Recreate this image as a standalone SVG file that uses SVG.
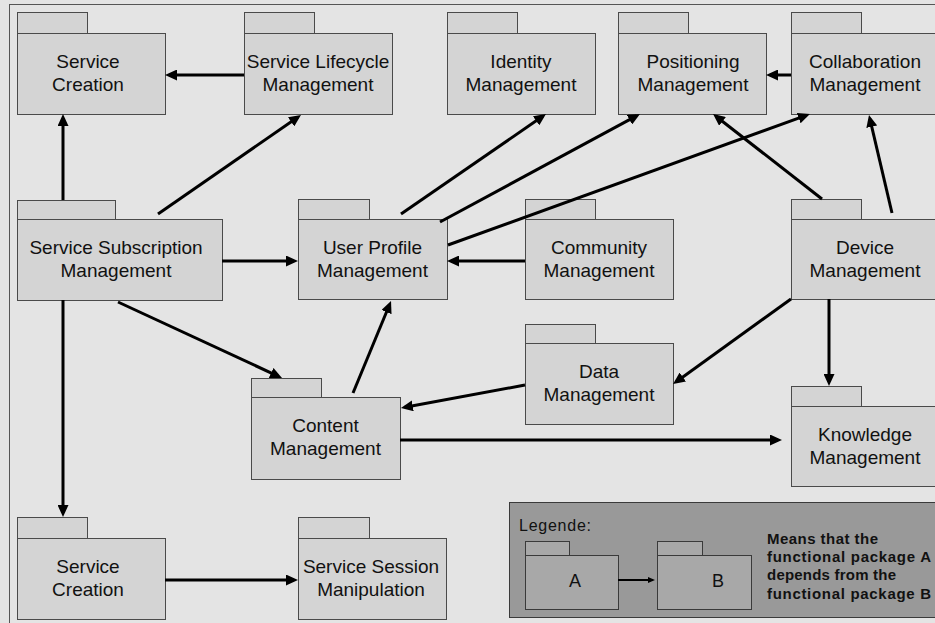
<svg xmlns="http://www.w3.org/2000/svg" width="935" height="623" viewBox="0 0 935 623">
<style>
  .pk { fill:#d4d4d4; stroke:#4a4a4a; stroke-width:1; }
  .lpk { fill:#a8a8a8; stroke:#3a3a3a; stroke-width:1; }
  .lbl { font-family:"Liberation Sans", Arial, sans-serif; font-size:19px; fill:#111; text-anchor:middle; }
  .leg { font-family:"Liberation Sans", Arial, sans-serif; font-size:16px; fill:#111; }
  .legb { font-family:"Liberation Sans", Arial, sans-serif; font-size:15px; font-weight:bold; fill:#111; }
  .ed { stroke:#000; stroke-width:3; fill:none; marker-end:url(#ah); }
</style>
<defs>
  <marker id="ah" markerUnits="userSpaceOnUse" viewBox="0 0 12 11" markerWidth="12" markerHeight="11" refX="8" refY="5.5" orient="auto">
    <path d="M0,0 L12,5.5 L0,11 Z" fill="#000"/>
  </marker>
  <marker id="ahs" markerUnits="userSpaceOnUse" viewBox="0 0 7 6" markerWidth="7" markerHeight="6" refX="5" refY="3" orient="auto">
    <path d="M0,0 L7,3 L0,6 Z" fill="#000"/>
  </marker>
</defs>
<rect x="0" y="0" width="935" height="623" fill="#e4e4e4"/>
<rect x="9.5" y="4.5" width="1000" height="1000" fill="#e4e4e4" stroke="#555" stroke-width="1"/>

<g id="sc1"><rect class="pk" x="17.5" y="12.5" width="70" height="21"/><rect class="pk" x="17.5" y="33.5" width="148" height="81"/>
<text class="lbl" x="88" y="68">Service</text><text class="lbl" x="88" y="91">Creation</text></g>
<g id="slm"><rect class="pk" x="244.5" y="12.5" width="70" height="21"/><rect class="pk" x="244.5" y="33.5" width="148" height="81"/>
<text class="lbl" x="318" y="68">Service Lifecycle</text><text class="lbl" x="318" y="91">Management</text></g>
<g id="idm"><rect class="pk" x="447.5" y="12.5" width="70" height="21"/><rect class="pk" x="447.5" y="33.5" width="148" height="81"/>
<text class="lbl" x="521" y="68">Identity</text><text class="lbl" x="521" y="91">Management</text></g>
<g id="pos"><rect class="pk" x="618.5" y="12.5" width="70" height="21"/><rect class="pk" x="618.5" y="33.5" width="148" height="81"/>
<text class="lbl" x="693" y="68">Positioning</text><text class="lbl" x="693" y="91">Management</text></g>
<g id="col"><rect class="pk" x="791.5" y="12.5" width="70" height="21"/><rect class="pk" x="791.5" y="33.5" width="148" height="81"/>
<text class="lbl" x="865" y="68">Collaboration</text><text class="lbl" x="865" y="91">Management</text></g>

<g id="ssm"><rect class="pk" x="17.5" y="200.5" width="98" height="19"/><rect class="pk" x="17.5" y="219.5" width="205" height="81"/>
<text class="lbl" x="116" y="254">Service Subscription</text><text class="lbl" x="116" y="277">Management</text></g>
<g id="upm"><rect class="pk" x="298.5" y="199.5" width="71" height="20"/><rect class="pk" x="298.5" y="219.5" width="149" height="80"/>
<text class="lbl" x="372.5" y="254">User Profile</text><text class="lbl" x="372.5" y="277">Management</text></g>
<g id="com"><rect class="pk" x="525.5" y="199.5" width="70" height="20"/><rect class="pk" x="525.5" y="219.5" width="148" height="80"/>
<text class="lbl" x="599" y="254">Community</text><text class="lbl" x="599" y="277">Management</text></g>
<g id="dev"><rect class="pk" x="791.5" y="199.5" width="70" height="20"/><rect class="pk" x="791.5" y="219.5" width="148" height="80"/>
<text class="lbl" x="865" y="254">Device</text><text class="lbl" x="865" y="277">Management</text></g>

<g id="dat"><rect class="pk" x="525.5" y="324.5" width="70" height="19"/><rect class="pk" x="525.5" y="343.5" width="148" height="81"/>
<text class="lbl" x="599" y="378">Data</text><text class="lbl" x="599" y="401">Management</text></g>
<g id="con"><rect class="pk" x="251.5" y="378.5" width="70" height="19"/><rect class="pk" x="251.5" y="397.5" width="149" height="82"/>
<text class="lbl" x="325.5" y="432">Content</text><text class="lbl" x="325.5" y="455">Management</text></g>
<g id="kno"><rect class="pk" x="791.5" y="386.5" width="70" height="20"/><rect class="pk" x="791.5" y="406.5" width="148" height="80"/>
<text class="lbl" x="865" y="441">Knowledge</text><text class="lbl" x="865" y="464">Management</text></g>

<g id="sc2"><rect class="pk" x="17.5" y="517.5" width="70" height="21"/><rect class="pk" x="17.5" y="538.5" width="148" height="81"/>
<text class="lbl" x="88" y="573">Service</text><text class="lbl" x="88" y="596">Creation</text></g>
<g id="ssp"><rect class="pk" x="298.5" y="517.5" width="71" height="21"/><rect class="pk" x="298.5" y="538.5" width="148" height="81"/>
<text class="lbl" x="371" y="573">Service Session</text><text class="lbl" x="371" y="596">Manipulation</text></g>

<g id="connectors">
  <line class="ed" x1="244" y1="75" x2="169" y2="75"/>
  <line class="ed" x1="63" y1="200" x2="63" y2="118"/>
  <line class="ed" x1="158" y1="214" x2="297.7" y2="117.3"/>
  <line class="ed" x1="222" y1="261" x2="294" y2="261"/>
  <line class="ed" x1="63" y1="300" x2="63" y2="513"/>
  <line class="ed" x1="118" y1="302" x2="278.4" y2="376.3"/>
  <line class="ed" x1="401" y1="214" x2="542.7" y2="116.3"/>
  <line class="ed" x1="440" y1="222" x2="636.5" y2="115.9"/>
  <line class="ed" x1="448" y1="245" x2="806.2" y2="115.4"/>
  <line class="ed" x1="525" y1="261" x2="451" y2="261"/>
  <line class="ed" x1="791" y1="75" x2="770" y2="75"/>
  <line class="ed" x1="822" y1="199" x2="716.2" y2="116.5"/>
  <line class="ed" x1="892" y1="213" x2="869.9" y2="118.9"/>
  <line class="ed" x1="791" y1="299" x2="676.3" y2="381.7"/>
  <line class="ed" x1="829" y1="299" x2="829" y2="382"/>
  <line class="ed" x1="525" y1="385" x2="404.9" y2="407.3"/>
  <line class="ed" x1="353" y1="393" x2="389.5" y2="304.7"/>
  <line class="ed" x1="400" y1="440" x2="778" y2="440"/>
  <line class="ed" x1="165" y1="580" x2="294" y2="580"/>
</g>

<g id="legend">
  <rect x="509.5" y="502.5" width="440" height="115" fill="#999999" stroke="#3a3a3a" stroke-width="1"/>
  <text class="leg" x="519" y="531" textLength="72" lengthAdjust="spacing">Legende:</text>
  <g id="legA"><rect class="lpk" x="525.5" y="541.5" width="44" height="14"/><rect class="lpk" x="525.5" y="555.5" width="93" height="54"/>
  <text class="lbl" x="575" y="587" style="font-size:18px">A</text></g>
  <g id="legB"><rect class="lpk" x="657.5" y="541.5" width="45" height="14"/><rect class="lpk" x="657.5" y="555.5" width="94" height="54"/>
  <text class="lbl" x="718" y="587" style="font-size:18px">B</text></g>
  <line x1="618" y1="580" x2="653" y2="580" stroke="#000" stroke-width="2" marker-end="url(#ahs)"/>
  <text class="legb" x="767" y="544" textLength="111" lengthAdjust="spacing">Means that the</text>
  <text class="legb" x="767" y="562" textLength="164" lengthAdjust="spacing">functional package A</text>
  <text class="legb" x="767" y="580" textLength="129" lengthAdjust="spacing">depends from the</text>
  <text class="legb" x="767" y="599" textLength="164" lengthAdjust="spacing">functional package B</text>
</g>
</svg>
